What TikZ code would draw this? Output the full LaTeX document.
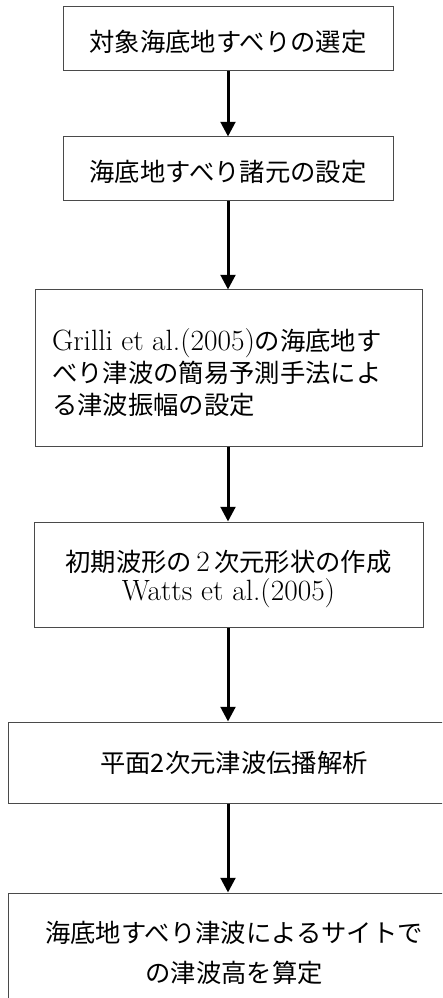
\documentclass[tikz,border=0pt]{standalone}
\usepackage{fontspec}
\newfontfamily\jp{Noto Sans CJK JP}
\usepackage{tikz}
\usetikzlibrary{arrows.meta,positioning}
\definecolor{ink}{HTML}{000000}
\definecolor{frame}{HTML}{4A4A4A}
\newcommand\en[1]{{\normalfont\fontsize{22}{24}\selectfont #1}}
\newcommand\topgap[1]{\rule{0pt}{#1}}
\tikzset{
  >={Triangle[length=11pt,width=11pt]},
  box/.style={draw=frame, fill=white, line width=0.75pt, inner sep=0pt,
    align=center, text=ink, font=\fontsize{19}{24}\selectfont\jp},
  arr/.style={->, draw=ink, line width=2.25pt},
}

\begin{document}
\begin{tikzpicture}[x=0.75pt, y=-0.75pt]
  \useasboundingbox (0,0) rectangle (442,998);
  \clip (0,0) rectangle (442,998);
  % ======================= steps =======================
  \node[box, minimum width=247.5pt, minimum height=48pt] (sel) at (228,39)
    {\topgap{20pt}対象海底地すべりの選定};
  \node[box, minimum width=247.5pt, minimum height=48pt] (spec) at (228,169)
    {\topgap{20pt}海底地すべり諸元の設定};
  \node[box, align=left, text width=264.75pt, inner xsep=12.75pt,
    minimum height=117pt] (amp) at (228.5,368)
    {\topgap{24pt}\en{Grilli et al.(2005)}の海底地す\\べり津波の簡易予測手法によ\\る津波振幅の設定};
  \node[box, minimum width=291.75pt, minimum height=78.75pt] (shape) at (228.5,574.5)
    {\topgap{23pt}初期波形の\,\en{2}\,次元形状の作成\\[-2pt]\en{Watts et al.(2005)}};
  \node[box, minimum width=339pt, minimum height=60.75pt] (prop) at (234,762.5)
    {平面2次元津波伝播解析};
  \node[box, minimum width=339pt, minimum height=90pt] (height) at (234,953)
    {海底地すべり津波によるサイトで\\[6pt]の津波高を算定};

  % ======================= flow =======================
  \foreach \a/\b in {sel/spec, spec/amp, amp/shape, shape/prop, prop/height}
    \draw[arr] (sel.south |- \a.south) -- (sel.south |- \b.north);
\end{tikzpicture}
\end{document}
